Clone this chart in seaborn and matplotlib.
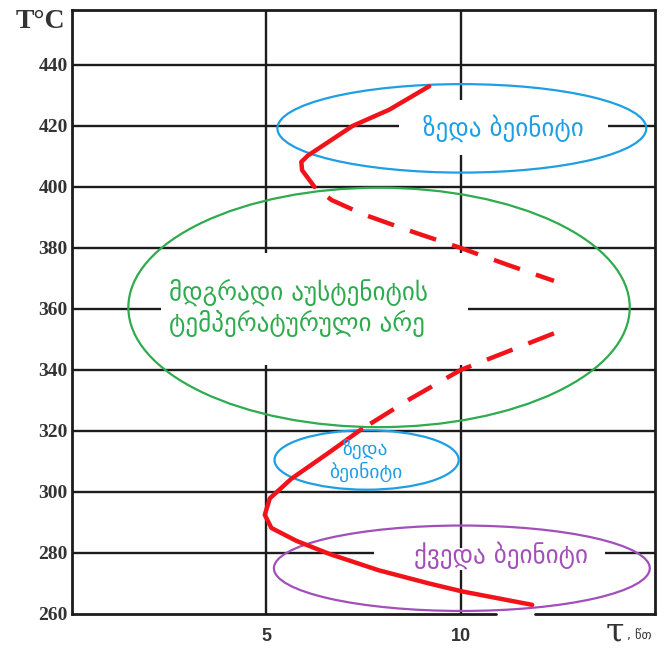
import matplotlib
matplotlib.use("Agg")
import matplotlib.pyplot as plt
from matplotlib.patches import Ellipse, Rectangle
import seaborn as sns
import pandas as pd

# ---------------- data ----------------
y_ticks = [260, 280, 300, 320, 340, 360, 380, 400, 420, 440]
x_ticks = [5, 10]
x_tick_labels = ["5", "10"]

upper_solid_t = [9.19, 8.16, 7.22, 6.07, 5.90, 5.92, 6.24]
upper_solid_T = [433.0, 425.3, 420.0, 410.3, 408.2, 405.5, 400.0]

upper_dash_t = [6.24, 6.68, 7.50, 8.60, 10.0, 11.2, 12.4]
upper_dash_T = [400.0, 395.7, 391.0, 386.0, 380.0, 374.5, 369.2]

lower_dash_t = [12.4, 11.2, 10.0, 8.70, 7.44]
lower_dash_T = [352.0, 346.0, 340.0, 330.5, 320.5]

lower_solid_t = [7.44, 6.62, 5.64, 5.09, 4.96, 5.13, 5.77, 6.62, 7.90, 9.19, 10.04, 11.84]
lower_solid_T = [320.5, 313.0, 304.3, 297.9, 292.5, 288.2, 284.0, 279.7, 274.3, 270.0, 267.4, 263.0]

region_labels = ["ზედა ბეინიტი",
                 "მდგრადი აუსტენიტის\nტემპერატურული არე",
                 "ზედა\nბეინიტი",
                 "ქვედა ბეინიტი"]
region_centers = [(10.03, 419.2), (7.9, 360.5), (7.58, 310.5), (10.03, 275.0)]
region_sizes = [(9.49, 29.0), (12.9, 78.5), (4.74, 19.5), (9.67, 28.0)]
label_pos = [(11.1, 419.4), (2.5, 360.3), (7.55, 310.4), (11.05, 279.2)]
label_ha = ["center", "left", "center", "center"]
label_size = [18, 18, 14, 18]
region_colors = ["#1e9fe3", "#2eab4e", "#1e9fe3", "#a24fba"]
# white backgrounds behind labels (x0, x1, T0, T1)
label_masks = [(8.41, 13.8, 410.4, 428.5), (2.3, 10.2, 341.5, 378.5), None, (7.78, 13.72, 274.5, 281.5)]

# ---------------- figure ----------------
sns.set_style("white")
plt.rcParams['font.family'] = ['DejaVu Sans']

fig = plt.figure(figsize=(6.72, 6.48), dpi=100)
ax = fig.add_axes([72/672, 1-614/648, (655-72)/672, (614-10)/648])

ax.set_xlim(0, 15)
ax.set_ylim(260, 458)

grid_color = "#1c1c1c"
grid_lw = 1.7
for yv in y_ticks[1:]:
    ax.axhline(yv, color=grid_color, lw=grid_lw, zorder=1)
for xv in x_ticks:
    ax.axvline(xv, color=grid_color, lw=grid_lw, zorder=1)

for m in label_masks:
    if m is not None:
        ax.add_patch(Rectangle((m[0], m[2]), m[1]-m[0], m[3]-m[2],
                               facecolor="white", edgecolor="none", zorder=2))

red = "#f0141a"
segments = [
    (upper_solid_t, upper_solid_T, "-"),
    (upper_dash_t, upper_dash_T, (6.2, (6.2, 3.8))),
    (lower_dash_t, lower_dash_T, (0, (6.2, 3.8))),
    (lower_solid_t, lower_solid_T, "-"),
]
for i, (t, T, ls) in enumerate(segments):
    df = pd.DataFrame({"t": t, "T": T})
    sns.lineplot(data=df, x="t", y="T", sort=False, estimator=None, ax=ax,
                 color=red, lw=3.2, zorder=4)
    ax.lines[-1].set_linestyle(ls)
    ax.lines[-1].set_solid_capstyle("round")

for c, s, col in zip(region_centers, region_sizes, region_colors):
    ax.add_patch(Ellipse(c, s[0], s[1], facecolor="none", edgecolor=col, lw=1.6, zorder=3))

for txt, p, ha, fs, col in zip(region_labels, label_pos, label_ha, label_size, region_colors):
    ax.text(p[0], p[1], txt, ha=ha, va="center", fontsize=fs, color=col,
            linespacing=1.2 if "\n" in txt else 1.2, zorder=5)

# spines
for s in ["left", "top", "right"]:
    ax.spines[s].set_visible(True)
    ax.spines[s].set_color(grid_color)
    ax.spines[s].set_linewidth(2.0)
ax.spines["bottom"].set_visible(False)
ax.axhline(260, xmin=0, xmax=10.9/15, color=grid_color, lw=2.0, zorder=1, clip_on=False)
ax.axhline(260, xmin=11.9/15, xmax=1, color=grid_color, lw=2.0, zorder=1, clip_on=False)

ax.set_yticks(y_ticks)
ax.set_yticklabels([str(v) for v in y_ticks], fontfamily="Liberation Serif",
                   fontweight="bold", fontsize=14, color="#333333")
ax.set_xticks(x_ticks)
ax.set_xticklabels(x_tick_labels, fontfamily="Liberation Sans",
                   fontweight="bold", fontsize=13, color="#333333")
ax.tick_params(axis="y", length=0, pad=3)
ax.tick_params(axis="x", length=0, pad=10)
ax.set_xlabel("")
ax.set_ylabel("")

fig.text(40/672, 1-22/648, "T°C", ha="center", va="center", fontfamily="Liberation Serif",
         fontweight="bold", fontsize=20, color="#333333")
fig.text(615/672, 1-633/648, "τ", ha="center", va="center", fontfamily="DejaVu Serif",
         fontsize=24, color="#333333")
fig.text(627/672, 1-636/648, ", წთ", ha="left", va="center", fontsize=9, color="#333333")

fig.savefig("out.png", dpi=100)
